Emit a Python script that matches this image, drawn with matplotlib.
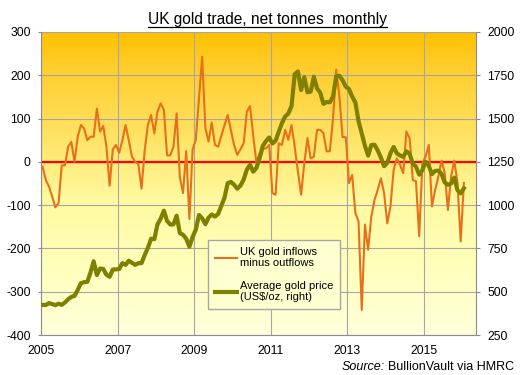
import numpy as np
import matplotlib
matplotlib.use("Agg")
import matplotlib.pyplot as plt
from matplotlib.colors import LinearSegmentedColormap
from matplotlib.lines import Line2D

plt.rcParams['font.family'] = ['Liberation Sans', 'DejaVu Sans']
plt.rcParams['axes.unicode_minus'] = False

# UK net gold trade, tonnes, Jan 2005 - Jan 2016
flows = [
    -11, -42, -57, -80, -105, -95, -8, -8, 35, 46, 0, 58,          # 2005
    85, 77, 50, 58, 58, 123, 70, 83, 35, -55, 29, 39,              # 2006
    21, 50, 85, 50, 12, 0, -5, -62, 27, 86, 108, 66,               # 2007
    116, 135, 120, 15, 15, 35, 112, -35, -72, 25, -132, 28,        # 2008
    51, 147, 243, 78, 47, 91, 39, 35, 60, 85, 108, 74,             # 2009
    39, 16, 29, 43, 116, 129, 60, -2, 20, 30, 31, 39,              # 2010
    -72, -76, 43, 39, 74, 51, 85, 35, -22, -76, -3, 55,            # 2011
    8, 12, 74, 74, 66, 24, 25, 100, 213, 151, 57, 57,              # 2012
    -49, -30, -118, -138, -342, -145, -203, -126, -88, -65, -38, -72,  # 2013
    -142, -103, -18, 8, -7, -26, 70, 55, -42, -45, -172, -3,       # 2014
    12, 39, -103, -65, -34, 3, -26, -111, -34, 3, -49, -184,       # 2015
    -49,                                                           # 2016
]

# average gold price, US$/oz
price = [
    424, 423, 434, 429, 422, 431, 424, 438, 456, 470, 476, 510,
    549, 555, 557, 610, 676, 596, 634, 632, 598, 586, 628, 629,
    631, 665, 655, 679, 667, 655, 665, 665, 712, 754, 806, 803,
    889, 922, 968, 909, 888, 889, 939, 839, 829, 806, 760, 816,
    858, 943, 924, 890, 928, 946, 934, 949, 996, 1043, 1127, 1134,
    1118, 1095, 1113, 1148, 1205, 1233, 1193, 1215, 1271, 1342, 1370, 1391,
    1356, 1372, 1424, 1474, 1512, 1529, 1572, 1756, 1772, 1665, 1739, 1652,
    1656, 1742, 1673, 1650, 1585, 1596, 1594, 1626, 1745, 1747, 1721, 1684,
    1671, 1627, 1593, 1485, 1414, 1343, 1286, 1347, 1349, 1316, 1275, 1225,
    1244, 1300, 1336, 1299, 1287, 1279, 1311, 1296, 1239, 1222, 1176, 1202,
    1251, 1227, 1179, 1198, 1199, 1181, 1131, 1117, 1125, 1159, 1086, 1068,
    1097,
]

years = [2005, 2007, 2009, 2011, 2013, 2015]
left_ticks = [-400, -300, -200, -100, 0, 100, 200, 300]
right_ticks = [250, 500, 750, 1000, 1250, 1500, 1750, 2000]

x = 2005 + (np.arange(len(flows)) + 0.5) / 12.0
xmax = 2005 + 136.3 / 12.0

fig = plt.figure(figsize=(5.2, 3.75), dpi=100)
ax = fig.add_axes([41 / 520, 1 - 335 / 375, 435 / 520, 303 / 375])

# background gradient
cmap = LinearSegmentedColormap.from_list('bg', [
    (0.0, '#FFFFDC'), (0.25, '#FFFFB8'), (0.45, '#FFF9A0'),
    (0.58, '#FFEB78'), (0.75, '#FFD94C'), (0.9, '#FFCC28'), (1.0, '#FFC000')])
grad = np.linspace(0, 1, 256).reshape(-1, 1)
ax.imshow(grad, extent=[2005, xmax, -400, 300], origin='lower',
          aspect='auto', cmap=cmap, zorder=0)

ax.set_xlim(2005, xmax)
ax.set_ylim(-400, 300)
ax.set_xticks(years)
ax.set_xticklabels([str(y) for y in years])
ax.set_yticks(left_ticks)
ax.grid(True, color='#A6A6A6', lw=0.8)
ax.set_axisbelow(True)
ax.axhline(0, color='#FF0000', lw=1.6, zorder=2)
l1, = ax.plot(x, flows, color='#E8701A', lw=1.5, zorder=3)

for s in ['top', 'right']:
    ax.spines[s].set_visible(False)
for s in ['left', 'bottom']:
    ax.spines[s].set_color('#8C8C8C')
ax.tick_params(axis='y', length=2.5, width=0.8, color='#8C8C8C', pad=5, labelsize=8.7)
ax.tick_params(axis='x', length=0, pad=7, labelsize=8.7)

ax2 = ax.twinx()
ax2.set_ylim(250, 2000)
ax2.set_yticks(right_ticks)
l2, = ax2.plot(x, price, color='#7F7F00', lw=3, zorder=4)
for s in ['top', 'left', 'bottom']:
    ax2.spines[s].set_visible(False)
ax2.spines['right'].set_color('#8C8C8C')
ax2.tick_params(axis='y', length=3, width=0.8, color='#8C8C8C', pad=5, labelsize=8.7)

leg = ax2.legend([l1, l2], ['UK gold inflows\nminus outflows', 'Average gold price\n(US$/oz, right)'],
                 loc='lower left', bbox_to_anchor=(0.384, 0.086), fontsize=8,
                 frameon=True, fancybox=False, handlelength=2.0, handletextpad=0.25,
                 borderpad=0.6, labelspacing=1.1, borderaxespad=0)
leg.get_frame().set_facecolor('#FFFFD0')
leg.get_frame().set_edgecolor('#A6A6A6')
leg.get_frame().set_alpha(1)

title = fig.text(267 / 520, 1 - 24 / 375, 'UK gold trade, net tonnes  monthly',
                 ha='center', va='baseline', fontsize=11.2)
src = fig.text(514 / 520, 1 - 370 / 375, 'BullionVault via HMRC',
               ha='right', va='baseline', fontsize=9)

fig.canvas.draw()
r = fig.canvas.get_renderer()
tb = title.get_window_extent(r)
uy = (375 - 26.5) / 375
fig.add_artist(Line2D([tb.x0 / 520, tb.x1 / 520], [uy, uy], color='black', lw=0.9,
                      transform=fig.transFigure))
sb = src.get_window_extent(r)
fig.text((sb.x0 - 3) / 520, 1 - 370 / 375, 'Source:', ha='right', va='baseline',
         fontsize=9, style='italic')

fig.savefig('out.png', dpi=100)
